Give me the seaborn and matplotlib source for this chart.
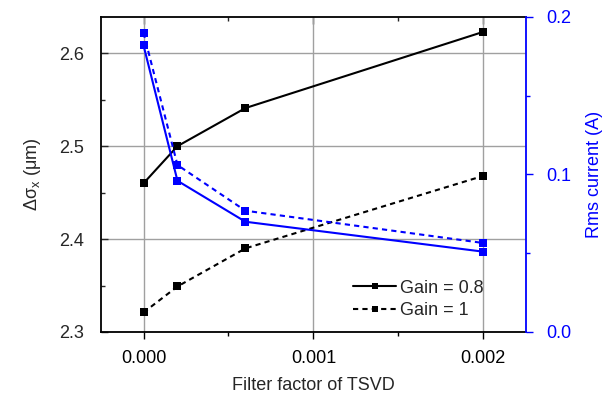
import matplotlib
matplotlib.use("Agg")
import matplotlib.pyplot as plt
import seaborn as sns
import pandas as pd
from matplotlib.ticker import MultipleLocator, FormatStrFormatter
from matplotlib.lines import Line2D

# Data
filter_factor = [0.0, 0.0002, 0.0006, 0.002]
sigma_gain08 = [2.460, 2.500, 2.541, 2.623]
sigma_gain1 = [2.321, 2.349, 2.390, 2.468]
rms_gain08 = [0.182, 0.096, 0.070, 0.051]
rms_gain1 = [0.190, 0.106, 0.077, 0.0565]
gain_labels = ["Gain = 0.8", "Gain = 1"]

sns.set_theme(style="white")
plt.rcParams["font.family"] = ["Liberation Sans", "DejaVu Sans"]
plt.rcParams["mathtext.fontset"] = "custom"
plt.rcParams["mathtext.rm"] = "Liberation Sans"
plt.rcParams["mathtext.it"] = "Liberation Sans"

df_left = pd.DataFrame({
    "x": filter_factor * 2,
    "y": sigma_gain08 + sigma_gain1,
    "gain": [gain_labels[0]] * 4 + [gain_labels[1]] * 4,
})
df_right = pd.DataFrame({
    "x": filter_factor * 2,
    "y": rms_gain08 + rms_gain1,
    "gain": [gain_labels[0]] * 4 + [gain_labels[1]] * 4,
})

fig = plt.figure(figsize=(6.05, 3.95), dpi=100)
ax = fig.add_axes([0.167, 0.1595, 0.702, 0.7975])

dash_map = {gain_labels[0]: "", gain_labels[1]: (2.5, 2)}
mk = {gain_labels[0]: "s", gain_labels[1]: "s"}
sns.lineplot(data=df_left, x="x", y="y", style="gain", dashes=dash_map,
             markers=mk, color="black", lw=1.5, markersize=5.8, markeredgewidth=0,
             ax=ax, legend=False)

ax2 = ax.twinx()
sns.lineplot(data=df_right, x="x", y="y", style="gain", dashes=dash_map,
             markers=mk, color="#0000ff", lw=1.5, markersize=5.8, markeredgewidth=0,
             ax=ax2, legend=False)

ax.set_xlim(-0.00025, 0.00225)
ax.set_ylim(2.3, 2.639)
ax2.set_ylim(0.0, 0.2)

ax.xaxis.set_major_locator(MultipleLocator(0.001))
ax.xaxis.set_minor_locator(MultipleLocator(0.0005))
ax.xaxis.set_major_formatter(FormatStrFormatter("%.3f"))
ax.yaxis.set_major_locator(MultipleLocator(0.1))
ax.yaxis.set_minor_locator(MultipleLocator(0.05))
ax.yaxis.set_major_formatter(FormatStrFormatter("%.1f"))
ax2.yaxis.set_major_locator(MultipleLocator(0.1))
ax2.yaxis.set_minor_locator(MultipleLocator(0.05))
ax2.yaxis.set_major_formatter(FormatStrFormatter("%.1f"))

ax.grid(True, which="major", color="#a0a0a0", lw=1)
ax.set_axisbelow(True)

fs = 13
ax.tick_params(axis="x", which="both", direction="out", bottom=True, top=False,
               labelsize=fs, colors="black", pad=8)
ax.tick_params(axis="x", which="major", length=5, width=1)
ax.tick_params(axis="x", which="minor", length=3, width=1)
ax.tick_params(axis="y", which="both", direction="in", left=True, labelsize=fs, pad=12)
ax.tick_params(axis="y", which="major", length=5, width=1)
ax.tick_params(axis="y", which="minor", length=3, width=1)
ax2.tick_params(axis="y", which="both", direction="out", right=True, labelsize=fs,
                colors="#0000ff", pad=10)
ax2.tick_params(axis="y", which="major", length=5, width=1)
ax2.tick_params(axis="y", which="minor", length=3, width=1)

# top ticks inward
secx = ax.secondary_xaxis("top")
secx.xaxis.set_major_locator(MultipleLocator(0.001))
secx.xaxis.set_minor_locator(MultipleLocator(0.0005))
secx.tick_params(axis="x", which="both", direction="in", labeltop=False)
secx.tick_params(axis="x", which="major", length=5, width=1)
secx.tick_params(axis="x", which="minor", length=3, width=1)
secx.spines["top"].set_visible(False)

for sp in ["left", "bottom", "top"]:
    ax.spines[sp].set_color("black")
    ax.spines[sp].set_linewidth(1.3)
ax.spines["right"].set_visible(False)
for sp in ["left", "bottom", "top"]:
    ax2.spines[sp].set_visible(False)
ax2.spines["right"].set_color("#0000ff")
ax2.spines["right"].set_linewidth(1.3)

ax.set_xlabel("Filter factor of TSVD", fontsize=fs, labelpad=7)
ax.set_ylabel("Δσ$_{x}$ (μm)", fontsize=fs, labelpad=12)
ax2.set_ylabel("Rms current (A)", fontsize=fs, color="#0000ff", labelpad=10)

handles = [
    Line2D([0], [0], color="black", lw=1.5, marker="s", markersize=5, markeredgewidth=0),
    Line2D([0], [0], color="black", lw=1.5, ls=(0, (2.5, 2)), marker="s", markersize=5,
           markeredgewidth=0),
]
ax.legend(handles, gain_labels, loc="lower right", bbox_to_anchor=(0.935, -0.005),
          frameon=False, fontsize=fs, handlelength=2.4, handletextpad=0.2,
          labelspacing=0.3, borderpad=0.3)

fig.savefig("out.png", dpi=100)
